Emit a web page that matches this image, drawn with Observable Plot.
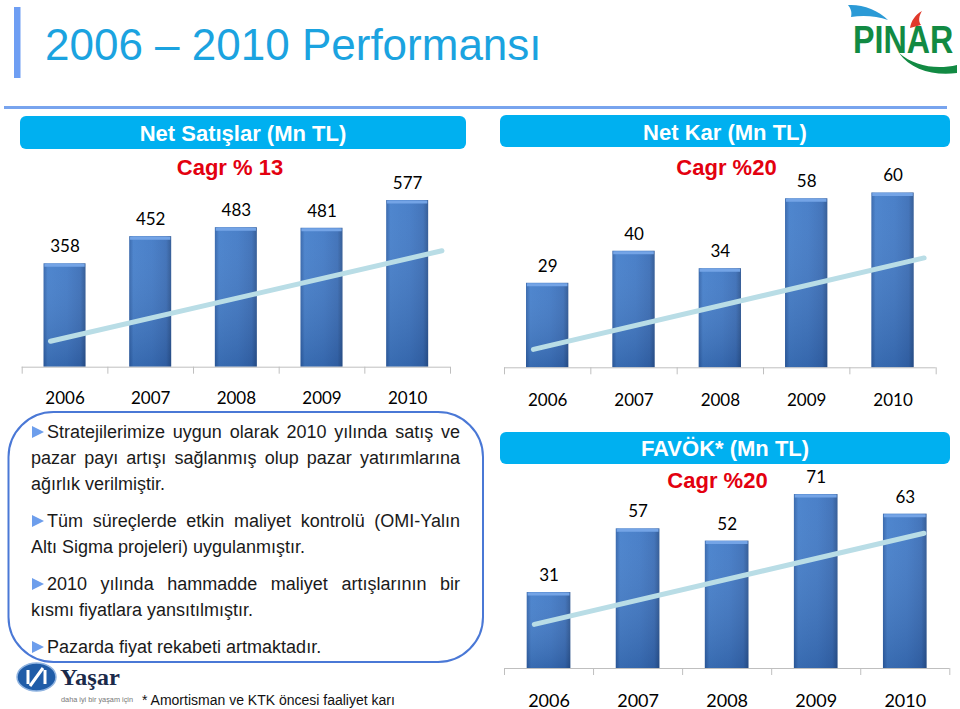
<!DOCTYPE html>
<html><head><meta charset="utf-8">
<script src="https://cdn.jsdelivr.net/npm/d3@7"></script>
<script src="https://cdn.jsdelivr.net/npm/@observablehq/plot@0.6"></script>
<style>
html,body{margin:0;padding:0;background:#fff;}
#page{position:relative;width:960px;height:709px;overflow:hidden;font-family:"Liberation Sans",Arial,sans-serif;}
.abs{position:absolute;}
.abs svg{overflow:visible;}
#bullets{position:absolute;left:31px;top:418.8px;width:429px;font-size:18px;line-height:26px;color:#1a1a1a;font-family:"Liberation Sans",Arial,sans-serif;}
#bullets .p{margin-bottom:11px;}
#bullets .l{text-align:justify;text-align-last:justify;}
#bullets .l.last{text-align:left;text-align-last:left;}
.tri{display:inline-block;width:0;height:0;border-left:12px solid #6d9eec;border-top:6px solid transparent;border-bottom:6px solid transparent;margin-left:1px;margin-right:3px;vertical-align:baseline;}
</style>
</head><body>
<div id="page">
<svg class="abs" style="left:0;top:0" width="960" height="709" font-family="Liberation Sans, Arial, sans-serif">
  <rect x="14" y="7" width="6.5" height="71" fill="#6e9ef3"/>
  <text x="45" y="60" font-size="44" fill="#1ba3e0">2006 – 2010 Performansı</text>
  <rect x="4" y="106" width="943" height="3" fill="#78a4ee"/>
  <!-- Pinar logo -->
  <path d="M848,5 C862,4 878,10 888,20 C877,16 863,15 851,17 C852,12 851,9 848,5 Z" fill="#2b9ad6"/>
  <path d="M910,28 C911,21 915,15 922,11 C919,16 918,21 921,25 Z" fill="#e0392b"/>
  <text transform="translate(853,53) scale(1,1.21)" font-size="32.2" font-weight="bold" fill="#128a43">PINAR</text>
  <path d="M899,53 C914,66 936,70 957,65 L957,73 C934,76 911,70 899,53 Z" fill="#128a43"/>
  <!-- headers -->
  <rect x="20" y="116" width="446" height="33" rx="6" fill="#00b0f0"/>
  <text x="243" y="141" text-anchor="middle" font-weight="bold" font-size="22" fill="#fff">Net Satışlar (Mn TL)</text>
  <rect x="500" y="115" width="450" height="32" rx="6" fill="#00b0f0"/>
  <text x="725" y="140" text-anchor="middle" font-weight="bold" font-size="22" fill="#fff">Net Kar (Mn TL)</text>
  <rect x="500" y="432" width="450" height="32" rx="6" fill="#00b0f0"/>
  <text x="725" y="456" text-anchor="middle" font-weight="bold" font-size="22" fill="#fff">FAVÖK* (Mn TL)</text>
  <text x="230" y="175" text-anchor="middle" font-weight="bold" font-size="22" fill="#e3000f">Cagr % 13</text>
  <text x="726.5" y="175" text-anchor="middle" font-weight="bold" font-size="22" fill="#e3000f">Cagr %20</text>
  <text x="717.5" y="488" text-anchor="middle" font-weight="bold" font-size="22" fill="#e3000f">Cagr %20</text>
  <!-- bullet box -->
  <rect x="8.5" y="412" width="474.5" height="250" rx="45" fill="none" stroke="#4a78d6" stroke-width="2"/>
  <!-- Yasar logo -->
  <ellipse cx="36.5" cy="677" rx="19.5" ry="14" fill="#1f5ca8" stroke="#8fb3e0" stroke-width="1.5"/>
  <path d="M28,670 L28,684 M45,670 L45,684 M30,686 L43,668" stroke="#fff" stroke-width="3" fill="none"/>
  <text x="60" y="685" font-family="Liberation Serif, serif" font-weight="bold" font-size="24" fill="#1b2a4a" textLength="60" lengthAdjust="spacingAndGlyphs">Yaşar</text>
  <text x="61" y="702" font-size="7" fill="#777" textLength="72" lengthAdjust="spacingAndGlyphs">daha iyi bir yaşam için</text>
  <text x="142" y="705" font-size="14" fill="#111">* Amortisman ve KTK öncesi faaliyet karı</text>
</svg>
<div id="bullets">
  <div class="p">
    <div class="l"><span class="tri"></span>Stratejilerimize uygun olarak 2010 yılında satış ve</div>
    <div class="l">pazar payı artışı sağlanmış olup pazar yatırımlarına</div>
    <div class="l last">ağırlık verilmiştir.</div>
  </div>
  <div class="p">
    <div class="l"><span class="tri"></span>Tüm süreçlerde etkin maliyet kontrolü (OMI-Yalın</div>
    <div class="l last">Altı Sigma projeleri) uygulanmıştır.</div>
  </div>
  <div class="p">
    <div class="l"><span class="tri"></span>2010 yılında hammadde maliyet artışlarının bir</div>
    <div class="l last">kısmı fiyatlara yansıtılmıştır.</div>
  </div>
  <div class="p">
    <div class="l last"><span class="tri"></span>Pazarda fiyat rekabeti artmaktadır.</div>
  </div>
</div>
<div id="c1" class="abs" style="left:0;top:150px"></div>
<div id="c2" class="abs" style="left:490px;top:150px"></div>
<div id="c3" class="abs" style="left:490px;top:465px"></div>
</div>
<script>
// ---- data ----
const years = [2006, 2007, 2008, 2009, 2010];
const netSales = [358, 452, 483, 481, 577];
const netProfit = [29, 40, 34, 58, 60];
const ebitda = [31, 57, 52, 71, 63];
// trend arrows
const salesTrendX = [2005.83, 2010.40];
const salesTrendY = [90, 403];
const profitTrendX = [2005.835, 2010.36];
const profitTrendY = [6.3, 37.7];
const ebitdaTrendX = [2005.835, 2010.21];
const ebitdaTrendY = [18, 55.2];

const bounds = [2005.5, 2006.5, 2007.5, 2008.5, 2009.5, 2010.5];
const HW = 0.245;

function addDefs(svg, id) {
  const defs = d3.select(svg).insert("defs", ":first-child");
  const h = defs.append("linearGradient").attr("id", id + "h").attr("x1", 0).attr("x2", 1).attr("y1", 0).attr("y2", 0);
  [[0, "#2f61a8"], [0.1, "#437ecb"], [0.55, "#3f78c5"], [0.88, "#386cb6"], [1, "#2a5491"]]
    .forEach(([o, c]) => h.append("stop").attr("offset", o).attr("stop-color", c));
  const v = defs.append("linearGradient").attr("id", id + "v").attr("x1", 0).attr("x2", 0).attr("y1", 0).attr("y2", 1);
  v.append("stop").attr("offset", 0).attr("stop-color", "#ffffff").attr("stop-opacity", 0.06);
  v.append("stop").attr("offset", 1).attr("stop-color", "#0a1e46").attr("stop-opacity", 0.2);
}

function chart(o) {
  const rows = years.map((year, i) => ({year, value: o.values[i]}));
  const trend = o.trendX.map((x, i) => ({x, y: o.trendY[i]}));
  const svg = Plot.plot({
    width: o.width, height: o.height,
    marginLeft: o.ml, marginRight: o.mr, marginTop: o.mt, marginBottom: o.mb,
    x: {type: "linear", domain: [2005.5, 2010.5], axis: null},
    y: {domain: [0, o.ymax], axis: null},
    style: {fontFamily: "Lato, 'Open Sans', sans-serif", background: "none", overflow: "visible", color: "#000"},
    marks: [
      Plot.rect(rows, {x1: d => d.year - HW, x2: d => d.year + HW, y1: 0, y2: "value", fill: `url(#${o.id}h)`}),
      Plot.rect(rows, {x1: d => d.year - HW, x2: d => d.year + HW, y1: 0, y2: "value", fill: `url(#${o.id}v)`}),
      Plot.ruleY(rows, {y: "value", x1: d => d.year - HW + 0.01, x2: d => d.year + HW - 0.01, stroke: "#74a4e6", strokeWidth: 3, dy: 1.5}),
      Plot.ruleY([0], {stroke: "#bfbfbf"}),
      Plot.axisX(bounds, {tickSize: 7, tickFormat: () => "", stroke: "#bfbfbf", label: null}),
      Plot.line(trend, {x: "x", y: "y", stroke: "#b9dde6", strokeWidth: 5}),
      Plot.text(rows, {x: "year", y: "value", text: d => String(d.value), lineAnchor: "bottom", dy: -11.5, fontSize: 17, fill: "#000"}),
      Plot.text(rows, {x: "year", y: 0, text: d => String(d.year), lineAnchor: "bottom", dy: o.yearDy, fontSize: o.yearSize, fill: "#000"})
    ]
  });
  addDefs(svg, o.id);
  document.getElementById(o.el).appendChild(svg);
}

chart({el: "c1", id: "g1", values: netSales, trendX: salesTrendX, trendY: salesTrendY,
  width: 470, height: 262, ml: 21.7, mr: 20, mt: 14.5, mb: 45.3, ymax: 700, yearDy: 36.3, yearSize: 17});
chart({el: "c2", id: "g2", values: netProfit, trendX: profitTrendX, trendY: profitTrendY,
  width: 470, height: 262, ml: 14, mr: 24.3, mt: 13.3, mb: 44.7, ymax: 70, yearDy: 37.7, yearSize: 17});
chart({el: "c3", id: "g3", values: ebitda, trendX: ebitdaTrendX, trendY: ebitdaTrendY,
  width: 470, height: 244, ml: 14, mr: 10.7, mt: 7, mb: 41, ymax: 80, yearDy: 38, yearSize: 18});
</script>
</body></html>
